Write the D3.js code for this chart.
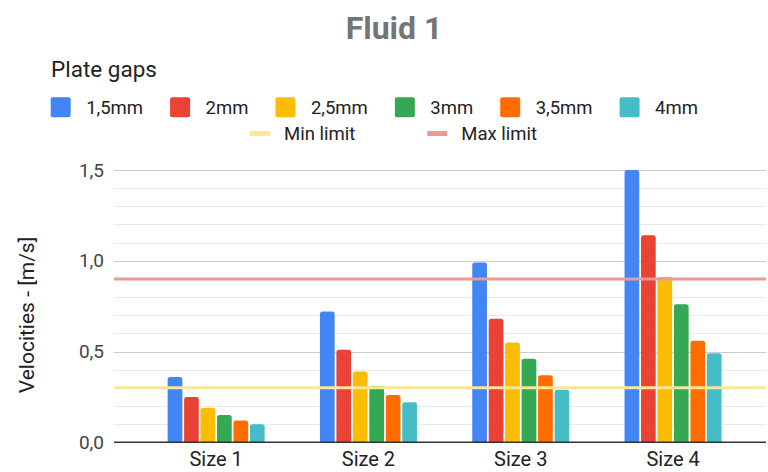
<!DOCTYPE html>
<html>
<head>
<meta charset="utf-8">
<script src="https://cdn.jsdelivr.net/npm/d3@7/dist/d3.min.js"></script>
<style>
  html, body { margin: 0; padding: 0; background: #fff; }
  svg { display: block; font-family: Roboto, "Noto Sans", Arial, sans-serif; }
</style>
</head>
<body>
<svg id="chart" width="768" height="472"></svg>
<script>
// Plate-gap velocity data per particle size
const categories = ["Size 1", "Size 2", "Size 3", "Size 4"];
const seriesNames = ["1,5mm", "2mm", "2,5mm", "3mm", "3,5mm", "4mm"];
const seriesColors = ["#4285f4", "#ea4335", "#fbbc04", "#34a853", "#ff6d01", "#46bdc6"];
const gap15 = [0.36, 0.72, 0.99, 1.50];
const gap20 = [0.25, 0.51, 0.68, 1.14];
const gap25 = [0.19, 0.39, 0.55, 0.91];
const gap30 = [0.15, 0.31, 0.46, 0.76];
const gap35 = [0.12, 0.26, 0.37, 0.56];
const gap40 = [0.10, 0.22, 0.29, 0.49];
const seriesValues = [gap15, gap20, gap25, gap30, gap35, gap40];

const minLimit = 0.3;
const maxLimit = 0.9;
const limitNames = ["Min limit", "Max limit"];
const limitColors = ["#ffe599", "#ea9999"];

const yTicks = [0, 0.5, 1.0, 1.5];
const yMinorTicks = d3.range(0, 16).map(i => i / 10);
const tickFormat = d => d3.format(".1f")(d).replace(".", ",");

const svg = d3.select("#chart");

// Layout
const plotLeft = 114, plotRight = 766;
const yScale = d3.scaleLinear().domain([0, 1.5]).range([442.3, 170]);
const x0 = d3.scaleBand().domain(categories).range([140, 749.2]).padding(0);
const groupWidth = 97;
const x1 = d3.scaleBand().domain(seriesNames).range([0, groupWidth]).paddingInner(0.107).paddingOuter(0);

// Title
svg.append("text")
  .attr("x", 394).attr("y", 38.5)
  .attr("text-anchor", "middle")
  .attr("font-size", 32).attr("font-weight", "bold")
  .attr("fill", "#757575")
  .text("Fluid 1");

// Legend header
svg.append("text")
  .attr("x", 51).attr("y", 76.5)
  .attr("font-size", 22.5)
  .attr("fill", "#222")
  .text("Plate gaps");

// Legend row of series
let lx = 50.7;
const legend1 = svg.append("g");
seriesNames.forEach((name, i) => {
  legend1.append("rect")
    .attr("x", lx).attr("y", 97.3).attr("width", 20).attr("height", 20)
    .attr("rx", 2).attr("fill", seriesColors[i]);
  const t = legend1.append("text")
    .attr("x", lx + 35.5).attr("y", 107.5)
    .attr("dominant-baseline", "central")
    .attr("font-size", 18.5).attr("fill", "#222")
    .text(name);
  lx += 35.5 + t.node().getComputedTextLength() + 27;
});

// Legend row of limit lines
let lx2 = 250;
const legend2 = svg.append("g");
limitNames.forEach((name, i) => {
  legend2.append("rect")
    .attr("x", lx2).attr("y", 131).attr("width", 20).attr("height", 5)
    .attr("fill", limitColors[i]);
  const t = legend2.append("text")
    .attr("x", lx2 + 34).attr("y", 133.5)
    .attr("dominant-baseline", "central")
    .attr("font-size", 18.5).attr("fill", "#222")
    .text(name);
  lx2 += 34 + t.node().getComputedTextLength() + 72;
});

// Gridlines
const grid = svg.append("g");
grid.selectAll("line.minor")
  .data(yMinorTicks.filter(v => !yTicks.some(t => Math.abs(t - v) < 1e-9)))
  .join("line")
  .attr("x1", plotLeft).attr("x2", plotRight)
  .attr("y1", d => Math.round(yScale(d)) + 0.5).attr("y2", d => Math.round(yScale(d)) + 0.5)
  .attr("stroke", "#ebebeb").attr("stroke-width", 1);
grid.selectAll("line.major")
  .data(yTicks.filter(v => v > 0))
  .join("line")
  .attr("x1", plotLeft).attr("x2", plotRight)
  .attr("y1", d => Math.round(yScale(d)) + 0.5).attr("y2", d => Math.round(yScale(d)) + 0.5)
  .attr("stroke", "#cccccc").attr("stroke-width", 1);

// Y axis labels
const yAxis = d3.axisLeft(yScale).tickValues(yTicks).tickFormat(tickFormat).tickSize(0).tickPadding(0);
const yg = svg.append("g").attr("transform", "translate(104,0)").call(yAxis);
yg.select(".domain").remove();
yg.selectAll("text").attr("font-size", 19).attr("fill", "#444").attr("font-family", "Roboto, sans-serif");

// Y axis title
svg.append("text")
  .attr("transform", "translate(34,315) rotate(-90)")
  .attr("text-anchor", "middle")
  .attr("font-size", 21).attr("fill", "#222")
  .text("Velocities - [m/s]");

// Clip to plot area
svg.append("clipPath").attr("id", "plotClip")
  .append("rect").attr("x", plotLeft).attr("y", yScale(1.5)).attr("width", plotRight - plotLeft).attr("height", yScale(0) - yScale(1.5));

// Bars with rounded top corners
function barPath(x, w, y0, y1, r) {
  const rr = Math.min(r, (y0 - y1) / 2, w / 2);
  return `M${x},${y0}V${y1 + rr}Q${x},${y1} ${x + rr},${y1}H${x + w - rr}Q${x + w},${y1} ${x + w},${y1 + rr}V${y0}Z`;
}
const bars = svg.append("g").attr("clip-path", "url(#plotClip)");
categories.forEach((cat, ci) => {
  const gx = x0(cat) + x0.bandwidth() / 2 - groupWidth / 2;
  seriesNames.forEach((s, si) => {
    const v = seriesValues[si][ci];
    bars.append("path")
      .attr("d", barPath(gx + x1(s), x1.bandwidth(), yScale(0), yScale(v), 2.5))
      .attr("fill", seriesColors[si]);
  });
});

// Limit lines
svg.append("line")
  .attr("x1", plotLeft).attr("x2", plotRight)
  .attr("y1", yScale(maxLimit)).attr("y2", yScale(maxLimit))
  .attr("stroke", limitColors[1]).attr("stroke-width", 3);
svg.append("line")
  .attr("x1", plotLeft).attr("x2", plotRight)
  .attr("y1", yScale(minLimit)).attr("y2", yScale(minLimit))
  .attr("stroke", limitColors[0]).attr("stroke-width", 3);

// Baseline
svg.append("line")
  .attr("x1", plotLeft).attr("x2", plotRight)
  .attr("y1", yScale(0)).attr("y2", yScale(0))
  .attr("stroke", "#333").attr("stroke-width", 1.5);

// X axis labels
const xAxis = d3.axisBottom(x0).tickSize(0).tickPadding(0);
const xg = svg.append("g").attr("transform", "translate(0,452)").call(xAxis);
xg.select(".domain").remove();
xg.selectAll("text").attr("font-size", 20).attr("fill", "#222").attr("font-family", "Roboto, sans-serif")
  .attr("dy", "0.71em");
</script>
</body>
</html>
